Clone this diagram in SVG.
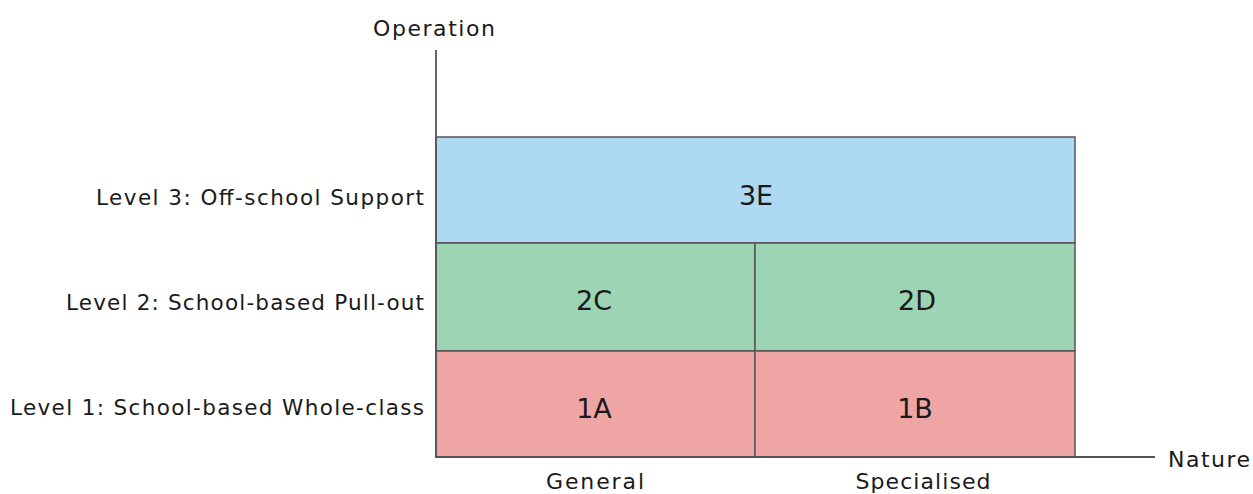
<svg xmlns="http://www.w3.org/2000/svg" width="1253" height="494" viewBox="0 0 1253 494">
<style>
text{font-family:"DejaVu Sans","Liberation Sans",sans-serif;fill:#1a1a1a}
.lab{font-size:21.5px;text-anchor:end}
.ax{font-size:22px}
.cell{font-size:27px;text-anchor:middle}
.cat{font-size:22px;text-anchor:middle}
.c{stroke:#555;stroke-width:1.5}
.axis{stroke:#555;stroke-width:1.8;fill:none}
</style>
<rect width="1253" height="494" fill="#fff"/>
<g id="cell-3E"><rect class="c" x="436" y="137" width="639" height="106" fill="#aed9f2"/><text class="cell" x="756" y="205">3E</text></g>
<g id="cell-2C"><rect class="c" x="436" y="243" width="319" height="108" fill="#9dd4b3"/><text class="cell" x="594" y="310">2C</text></g>
<g id="cell-2D"><rect class="c" x="755" y="243" width="320" height="108" fill="#9dd4b3"/><text class="cell" x="917" y="310">2D</text></g>
<g id="cell-1A"><rect class="c" x="436" y="351" width="319" height="106" fill="#f0a5a5"/><text class="cell" x="594" y="418">1A</text></g>
<g id="cell-1B"><rect class="c" x="755" y="351" width="320" height="106" fill="#f0a5a5"/><text class="cell" x="915" y="418">1B</text></g>
<g id="connectors">
<path class="axis" d="M436 50 V457 H1155"/>
</g>
<g id="labels">
<text class="ax" x="434" y="36" text-anchor="middle" textLength="122">Operation</text>
<text class="ax" x="1168" y="467" textLength="82">Nature</text>
<text class="lab" x="424" y="205" textLength="328">Level 3: Off-school Support</text>
<text class="lab" x="424" y="310" textLength="358">Level 2: School-based Pull-out</text>
<text class="lab" x="424" y="415" textLength="414">Level 1: School-based Whole-class</text>
<text class="cat" x="595" y="489" textLength="98">General</text>
<text class="cat" x="923" y="489" textLength="135">Specialised</text>
</g>
</svg>
